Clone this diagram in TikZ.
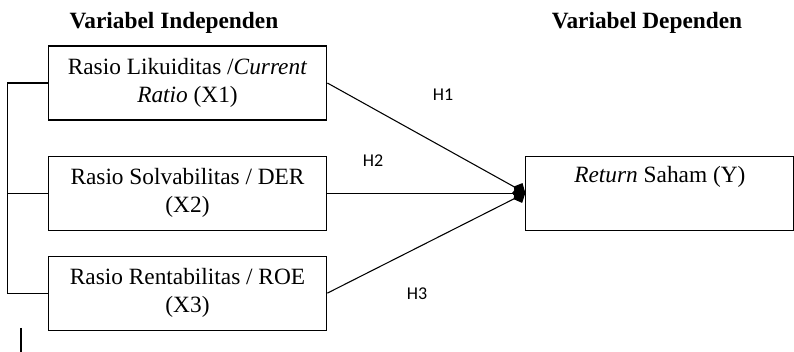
\documentclass[tikz,border=0pt]{standalone}
\usepackage{fontspec}
\setmainfont{Liberation Serif}
\newfontfamily\hfont{Carlito}
\usepackage{xcolor}
\usetikzlibrary{shapes,arrows.meta,positioning}

\begin{document}
\begin{tikzpicture}[x=0.75pt, y=-0.75pt, >={Kite[length=10pt,width=11pt,inset=4.5pt]}]
                    % Define styles
                    \tikzstyle{variabel} = [rectangle, draw, line width=0.8pt, minimum width=209pt, minimum height=55.5pt, align=center, inner sep=0pt, font=\fontsize{17.5}{21}\selectfont]
                    \tikzstyle{judul} = [font=\fontsize{17.5}{21}\selectfont\bfseries]
                    \tikzstyle{hipotesis} = [font=\fontsize{13.5}{16}\selectfont\hfont]
                    \tikzstyle{line} = [draw, ->, line width=0.8pt]
                    \tikzstyle{kurung} = [draw, line width=0.8pt]

                    \useasboundingbox (0,0) rectangle (794,352);

                    % Nodes
                    \node [variabel] (likuiditas) at (187.5,83) {Rasio Likuiditas /\textit{Current}\\\textit{Ratio} (X1)};
                    \node [variabel, below=26.25pt of likuiditas] (solvabilitas) {Rasio Solvabilitas / DER\\(X2)};
                    \node [variabel, below=18.75pt of solvabilitas] (rentabilitas) {Rasio Rentabilitas / ROE\\(X3)};
                    \node [variabel, right=148.5pt of solvabilitas, minimum width=201pt] (return) {\textit{Return} Saham (Y)\\\strut};

                    \node [judul] (independen) at (174,23) {Variabel Independen};
                    \node [judul] (dependen) at (647,23) {Variabel Dependen};

                    \node [hipotesis] (h1) at (443,95) {H1};
                    \node [hipotesis] (h2) at (373,161) {H2};
                    \node [hipotesis] (h3) at (417,294) {H3};

                    % Arrows
                    \draw [line] (likuiditas.east) -- (return.west);
                    \draw [line] (solvabilitas.east) -- (return.west);
                    \draw [line] (rentabilitas.east) -- (return.west);

                    \draw [kurung] (likuiditas.west) -- ++(-40,0) coordinate (kiri) |- (rentabilitas.west);
                    \draw [kurung] (solvabilitas.west) -- (solvabilitas.west -| kiri);

                    \coordinate (kursor) at (21,328);
                    \draw [line width=1.5pt] (kursor) -- ++(0,24);
                \end{tikzpicture}
\end{document}
